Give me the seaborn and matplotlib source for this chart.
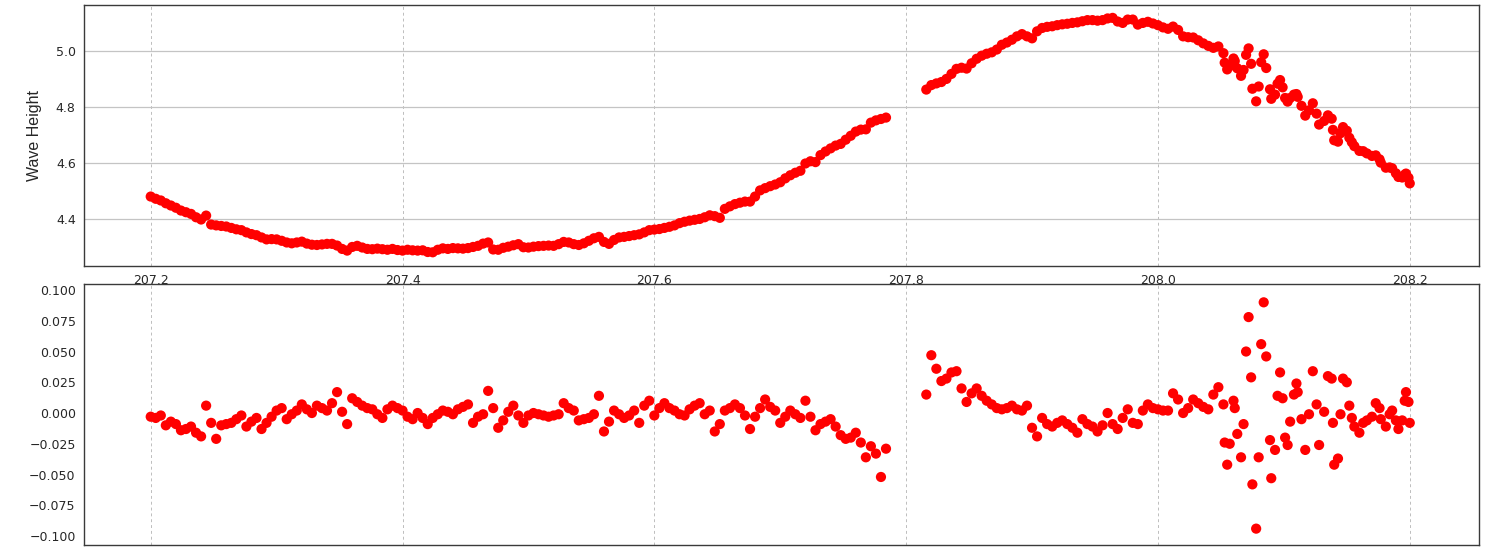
import matplotlib
matplotlib.use("Agg")
import matplotlib.pyplot as plt
import numpy as np
import pandas as pd
import seaborn as sns

# ---- sample times (day of year) and readings --------------------------------
# first run, before the gap
time_a = [
    207.200, 207.204, 207.208, 207.212, 207.216, 207.220, 207.224, 207.228, 207.232, 207.236,
    207.240, 207.244, 207.248, 207.252, 207.256, 207.260, 207.264, 207.268, 207.272, 207.276,
    207.280, 207.284, 207.288, 207.292, 207.296, 207.300, 207.304, 207.308, 207.312, 207.316,
    207.320, 207.324, 207.328, 207.332, 207.336, 207.340, 207.344, 207.348, 207.352, 207.356,
    207.360, 207.364, 207.368, 207.372, 207.376, 207.380, 207.384, 207.388, 207.392, 207.396,
    207.400, 207.404, 207.408, 207.412, 207.416, 207.420, 207.424, 207.428, 207.432, 207.436,
    207.440, 207.444, 207.448, 207.452, 207.456, 207.460, 207.464, 207.468, 207.472, 207.476,
    207.480, 207.484, 207.488, 207.492, 207.496, 207.500, 207.504, 207.508, 207.512, 207.516,
    207.520, 207.524, 207.528, 207.532, 207.536, 207.540, 207.544, 207.548, 207.552, 207.556,
    207.560, 207.564, 207.568, 207.572, 207.576, 207.580, 207.584, 207.588, 207.592, 207.596,
    207.600, 207.604, 207.608, 207.612, 207.616, 207.620, 207.624, 207.628, 207.632, 207.636,
    207.640, 207.644, 207.648, 207.652, 207.656, 207.660, 207.664, 207.668, 207.672, 207.676,
    207.680, 207.684, 207.688, 207.692, 207.696, 207.700, 207.704, 207.708, 207.712, 207.716,
    207.720, 207.724, 207.728, 207.732, 207.736, 207.740, 207.744, 207.748, 207.752, 207.756,
    207.760, 207.764, 207.768, 207.772, 207.776, 207.780, 207.784,
]
height_a = [
    4.480, 4.472, 4.466, 4.456, 4.448, 4.440, 4.430, 4.424, 4.418, 4.406,
    4.398, 4.412, 4.380, 4.377, 4.375, 4.373, 4.368, 4.363, 4.360, 4.352,
    4.346, 4.342, 4.334, 4.327, 4.328, 4.327, 4.322, 4.316, 4.313, 4.316,
    4.319, 4.312, 4.308, 4.307, 4.309, 4.311, 4.311, 4.305, 4.293, 4.287,
    4.300, 4.304, 4.298, 4.293, 4.292, 4.294, 4.292, 4.290, 4.293, 4.289,
    4.287, 4.290, 4.288, 4.287, 4.288, 4.282, 4.281, 4.290, 4.295, 4.293,
    4.296, 4.295, 4.294, 4.296, 4.300, 4.304, 4.312, 4.316, 4.291, 4.290,
    4.297, 4.301, 4.306, 4.310, 4.299, 4.298, 4.301, 4.303, 4.304, 4.305,
    4.304, 4.310, 4.318, 4.316, 4.310, 4.307, 4.313, 4.322, 4.331, 4.336,
    4.318, 4.311, 4.325, 4.334, 4.336, 4.339, 4.342, 4.345, 4.352, 4.360,
    4.362, 4.364, 4.368, 4.372, 4.377, 4.385, 4.390, 4.394, 4.397, 4.400,
    4.406, 4.413, 4.410, 4.404, 4.436, 4.445, 4.453, 4.458, 4.462, 4.462,
    4.480, 4.502, 4.510, 4.517, 4.523, 4.531, 4.545, 4.556, 4.565, 4.572,
    4.598, 4.606, 4.603, 4.628, 4.641, 4.652, 4.662, 4.668, 4.683, 4.697,
    4.712, 4.719, 4.720, 4.744, 4.752, 4.757, 4.762,
]
resid_a = [
    -0.003, -0.004, -0.002, -0.010, -0.007, -0.009, -0.014, -0.013, -0.011, -0.016,
    -0.019, 0.006, -0.008, -0.021, -0.010, -0.009, -0.008, -0.005, -0.002, -0.011,
    -0.007, -0.004, -0.013, -0.008, -0.003, 0.002, 0.004, -0.005, -0.001, 0.002,
    0.007, 0.003, 0.000, 0.006, 0.004, 0.002, 0.008, 0.017, 0.001, -0.009,
    0.012, 0.009, 0.006, 0.004, 0.003, -0.001, -0.004, 0.003, 0.006, 0.004,
    0.002, -0.003, -0.005, 0.000, -0.004, -0.009, -0.004, -0.001, 0.002, 0.001,
    -0.001, 0.003, 0.005, 0.007, -0.008, -0.003, -0.001, 0.018, 0.004, -0.012,
    -0.006, 0.001, 0.006, -0.002, -0.008, -0.002, 0.000, -0.001, -0.002, -0.003,
    -0.002, -0.001, 0.008, 0.004, 0.002, -0.006, -0.005, -0.004, -0.001, 0.014,
    -0.015, -0.007, 0.002, -0.001, -0.004, -0.002, 0.002, -0.008, 0.006, 0.010,
    -0.002, 0.004, 0.008, 0.004, 0.002, -0.001, -0.002, 0.003, 0.006, 0.008,
    -0.001, 0.002, -0.015, -0.009, 0.002, 0.004, 0.007, 0.004, -0.002, -0.013,
    -0.003, 0.004, 0.011, 0.005, 0.002, -0.008, -0.003, 0.002, -0.001, -0.004,
    0.010, -0.003, -0.014, -0.009, -0.007, -0.005, -0.011, -0.018, -0.021, -0.020,
    -0.016, -0.024, -0.036, -0.027, -0.033, -0.052, -0.029,
]

# second run, smooth crest
time_b = [
    207.816, 207.820, 207.824, 207.828, 207.832, 207.836, 207.840, 207.844, 207.848, 207.852,
    207.856, 207.860, 207.864, 207.868, 207.872, 207.876, 207.880, 207.884, 207.888, 207.892,
    207.896, 207.900, 207.904, 207.908, 207.912, 207.916, 207.920, 207.924, 207.928, 207.932,
    207.936, 207.940, 207.944, 207.948, 207.952, 207.956, 207.960, 207.964, 207.968, 207.972,
    207.976, 207.980, 207.984, 207.988, 207.992, 207.996, 208.000, 208.004, 208.008, 208.012,
    208.016, 208.020, 208.024, 208.028, 208.032, 208.036, 208.040, 208.044,
]
height_b = [
    4.862, 4.878, 4.884, 4.889, 4.900, 4.918, 4.936, 4.940, 4.937, 4.956,
    4.972, 4.983, 4.990, 4.995, 5.005, 5.022, 5.030, 5.040, 5.052, 5.060,
    5.052, 5.045, 5.070, 5.082, 5.086, 5.088, 5.092, 5.095, 5.097, 5.100,
    5.102, 5.106, 5.110, 5.110, 5.108, 5.110, 5.116, 5.118, 5.105, 5.100,
    5.112, 5.112, 5.094, 5.100, 5.104, 5.098, 5.092, 5.084, 5.079, 5.087,
    5.075, 5.052, 5.049, 5.048, 5.038, 5.027, 5.018, 5.011,
]
resid_b = [
    0.015, 0.047, 0.036, 0.026, 0.028, 0.033, 0.034, 0.020, 0.009, 0.016,
    0.020, 0.014, 0.010, 0.007, 0.004, 0.003, 0.004, 0.006, 0.003, 0.002,
    0.006, -0.012, -0.019, -0.004, -0.009, -0.011, -0.008, -0.006, -0.009, -0.012,
    -0.016, -0.005, -0.009, -0.011, -0.015, -0.010, 0.000, -0.009, -0.013, -0.004,
    0.003, -0.008, -0.009, 0.002, 0.007, 0.004, 0.003, 0.002, 0.002, 0.016,
    0.011, 0.000, 0.004, 0.011, 0.008, 0.005, 0.003, 0.015,
]

# second run, noisy falling limb
time_c = [
    208.048, 208.052, 208.053, 208.055, 208.057, 208.060, 208.061, 208.063, 208.066, 208.068,
    208.070, 208.072, 208.074, 208.075, 208.078, 208.080, 208.082, 208.084, 208.086, 208.089,
    208.090, 208.093, 208.095, 208.097, 208.099, 208.101, 208.103, 208.105, 208.108, 208.110,
    208.111, 208.114, 208.117, 208.120, 208.123, 208.126, 208.128, 208.132, 208.135, 208.138,
    208.139, 208.140, 208.143, 208.145, 208.147, 208.150, 208.152, 208.154, 208.156, 208.160,
    208.163, 208.166, 208.170, 208.173, 208.176, 208.177, 208.181, 208.184, 208.186, 208.189,
    208.191, 208.194, 208.196, 208.197, 208.199, 208.200,
]
height_c = [
    5.016, 4.992, 4.958, 4.934, 4.946, 4.973, 4.964, 4.938, 4.911, 4.932,
    4.986, 5.009, 4.954, 4.865, 4.820, 4.873, 4.960, 4.988, 4.939, 4.863,
    4.829, 4.844, 4.883, 4.896, 4.870, 4.832, 4.819, 4.832, 4.844, 4.846,
    4.836, 4.804, 4.769, 4.788, 4.813, 4.776, 4.737, 4.750, 4.770, 4.758,
    4.718, 4.681, 4.676, 4.706, 4.728, 4.715, 4.690, 4.674, 4.660, 4.643,
    4.642, 4.634, 4.625, 4.627, 4.613, 4.601, 4.583, 4.584, 4.581, 4.563,
    4.550, 4.548, 4.558, 4.562, 4.547, 4.527,
]
resid_c = [
    0.021, 0.007, -0.024, -0.042, -0.025, 0.010, 0.004, -0.017, -0.036, -0.009,
    0.050, 0.078, 0.029, -0.058, -0.094, -0.036, 0.056, 0.090, 0.046, -0.022,
    -0.053, -0.030, 0.014, 0.033, 0.012, -0.020, -0.026, -0.007, 0.015, 0.024,
    0.017, -0.005, -0.030, -0.001, 0.034, 0.007, -0.026, 0.001, 0.030, 0.028,
    -0.008, -0.042, -0.037, -0.001, 0.028, 0.025, 0.006, -0.004, -0.011, -0.016,
    -0.008, -0.006, -0.003, 0.008, 0.004, -0.005, -0.011, -0.001, 0.002, -0.006,
    -0.013, -0.006, 0.010, 0.017, 0.009, -0.008,
]

# axis ticks
x_ticks = [207.2, 207.4, 207.6, 207.8, 208.0, 208.2]
x_tick_labels = ["207.2", "207.4", "207.6", "207.8", "208.0", "208.2"]
h_ticks = [4.4, 4.6, 4.8, 5.0]
h_tick_labels = ["4.4", "4.6", "4.8", "5.0"]
r_ticks = [-0.1, -0.075, -0.05, -0.025, 0.0, 0.025, 0.05, 0.075, 0.1]
r_tick_labels = ["\u22120.100", "\u22120.075", "\u22120.050", "\u22120.025", "0.000",
                 "0.025", "0.050", "0.075", "0.100"]

df = pd.DataFrame({
    "time": time_a + time_b + time_c,
    "height": height_a + height_b + height_c,
    "resid": resid_a + resid_b + resid_c,
})

# ---- figure ---------------------------------------------------------------
sns.set_style("white")
plt.rcParams["font.family"] = ["DejaVu Sans"]

W, H = 1486, 547
fig = plt.figure(figsize=(W / 100, H / 100), dpi=100)
ax_top = fig.add_axes([84 / W, 1 - 266 / H, (1479 - 84) / W, 261 / H])
ax_bot = fig.add_axes([84 / W, 1 - 545 / H, (1479 - 84) / W, 261 / H])

dot = dict(color="#ff0000", s=54, linewidth=0, edgecolor="none", legend=False)
sns.scatterplot(data=df, x="time", y="height", ax=ax_top, **dot)
sns.scatterplot(data=df, x="time", y="resid", ax=ax_bot, **dot)

tick_col = "#262626"
spine_col = "#3a3a3a"
for ax in (ax_top, ax_bot):
    ax.set_xlim(207.147, 208.255)
    ax.set_xticks(x_ticks, labels=x_tick_labels)
    ax.grid(axis="x", color="#bdbdbd", linestyle=(0, (3, 3)), linewidth=0.7)
    ax.set_axisbelow(True)
    for sp in ax.spines.values():
        sp.set_color(spine_col)
        sp.set_linewidth(1.0)
    ax.tick_params(axis="both", direction="out", length=3.5, width=0.8,
                   color=spine_col, labelcolor=tick_col, labelsize=9, pad=2.5)
    ax.set_xlabel("")

ax_top.set_ylim(4.232, 5.164)
ax_top.set_yticks(h_ticks, labels=h_tick_labels)
ax_top.grid(axis="y", color="#c4c4c4", linestyle="-", linewidth=0.9)
ax_top.set_ylabel("Wave Height", fontsize=11.5, labelpad=10,
                  family=["Liberation Sans Narrow", "Liberation Sans", "DejaVu Sans"])

ax_bot.set_ylim(-0.1073, 0.1049)
ax_bot.set_yticks(r_ticks, labels=r_tick_labels)
ax_bot.set_ylabel("")
ax_bot.tick_params(axis="x", labelbottom=False)

fig.savefig("out.png", dpi=100, facecolor="white")
